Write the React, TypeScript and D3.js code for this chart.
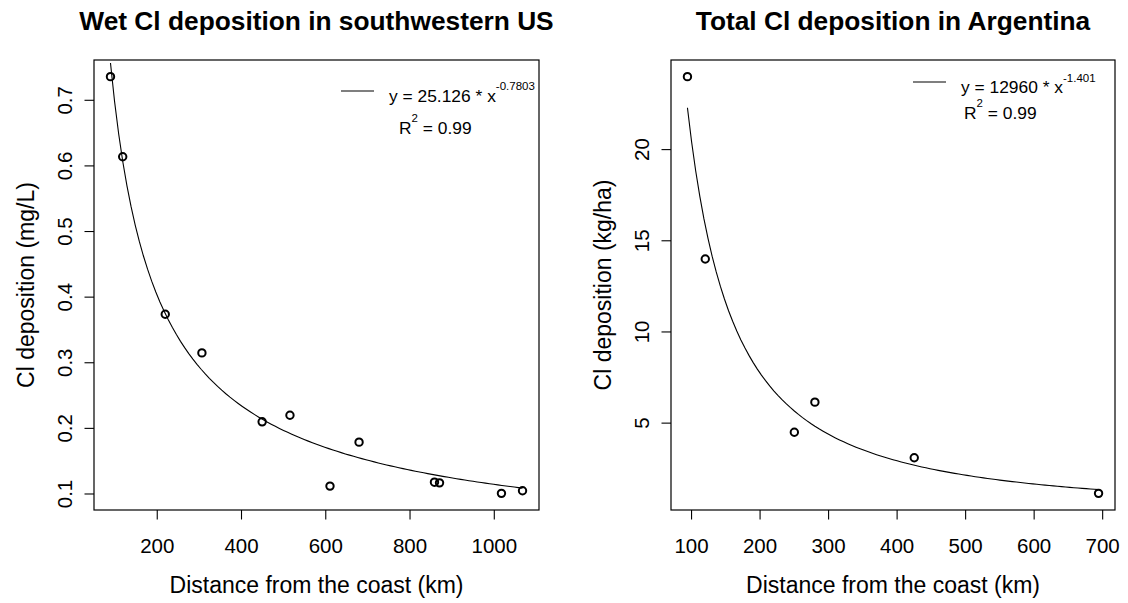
import React from "react";
import * as d3 from "d3";

// Wet Cl deposition, southwestern US
const usDistance = [89, 118, 219, 306, 449, 515, 610, 679, 858, 870, 1017, 1067];
const usDeposition = [0.736, 0.614, 0.374, 0.315, 0.21, 0.22, 0.112, 0.179, 0.118, 0.117, 0.101, 0.105];
const usFit = { a: 25.126, b: -0.7803 };
const usXTicks = [200, 400, 600, 800, 1000];
const usYTicks = [0.1, 0.2, 0.3, 0.4, 0.5, 0.6, 0.7];

// Total Cl deposition, Argentina
const arDistance = [94, 120, 250, 280, 425, 694];
const arDeposition = [24.0, 14.0, 4.5, 6.15, 3.1, 1.15];
const arFit = { a: 12960, b: -1.401 };
const arXTicks = [100, 200, 300, 400, 500, 600, 700];
const arYTicks = [5, 10, 15, 20];

const FONT = "'Liberation Sans', Arial, Helvetica, sans-serif";

// R-style axis range: data extent padded by 4% on each side
function padded(values: number[]): [number, number] {
  const [lo, hi] = d3.extent(values) as [number, number];
  const d = (hi - lo) * 0.04;
  return [lo - d, hi + d];
}

type PanelProps = {
  title: string;
  yLabel: string;
  xs: number[];
  ys: number[];
  fit: { a: number; b: number };
  coefText: string;
  expText: string;
  xTicks: number[];
  yTicks: number[];
  box: { left: number; right: number; top: number; bottom: number };
  legend: {
    lineX1: number; lineX2: number; lineY: number;
    eqX: number; eqY: number; supDy: number;
    rX: number; rY: number;
  };
};

function Panel(p: PanelProps) {
  const { box, legend } = p;
  const x = d3.scaleLinear().domain(padded(p.xs)).range([box.left, box.right]);
  const y = d3.scaleLinear().domain(padded(p.ys)).range([box.bottom, box.top]);
  const [x0, x1] = d3.extent(p.xs) as [number, number];
  const curveX = d3.range(101).map((i) => x0 + ((x1 - x0) * i) / 100);
  const line = d3
    .line<number>()
    .x((d) => x(d))
    .y((d) => y(p.fit.a * Math.pow(d, p.fit.b)));
  const cx = (box.left + box.right) / 2;
  const cy = (box.top + box.bottom) / 2;
  const tickLen = 9.5;

  return (
    <g fontFamily={FONT} fill="#000">
      <text x={cx} y={30} textAnchor="middle" fontWeight="bold" fontSize={26.3}>
        {p.title}
      </text>
      <rect
        x={box.left}
        y={box.top}
        width={box.right - box.left}
        height={box.bottom - box.top}
        fill="none"
        stroke="#000"
        strokeWidth={1.2}
      />
      {/* x axis */}
      {p.xTicks.map((t) => (
        <g key={"x" + t}>
          <line x1={x(t)} x2={x(t)} y1={box.bottom} y2={box.bottom + tickLen} stroke="#000" strokeWidth={1.1} />
          <text x={x(t)} y={553} textAnchor="middle" fontSize={20.5}>
            {t}
          </text>
        </g>
      ))}
      <text x={cx} y={593} textAnchor="middle" fontSize={23}>
        Distance from the coast (km)
      </text>
      {/* y axis */}
      {p.yTicks.map((t) => (
        <g key={"y" + t}>
          <line x1={box.left - tickLen} x2={box.left} y1={y(t)} y2={y(t)} stroke="#000" strokeWidth={1.1} />
          <text
            transform={`translate(${box.left - 22},${y(t)}) rotate(-90)`}
            textAnchor="middle"
            fontSize={20.5}
          >
            {t}
          </text>
        </g>
      ))}
      <text
        transform={`translate(${box.left - 60},${cy}) rotate(-90)`}
        textAnchor="middle"
        fontSize={23}
      >
        {p.yLabel}
      </text>
      {/* fitted power curve */}
      <path d={line(curveX) || ""} fill="none" stroke="#000" strokeWidth={1.1} />
      {/* observations */}
      {p.xs.map((d, i) => (
        <circle key={i} cx={x(d)} cy={y(p.ys[i])} r={3.7} fill="none" stroke="#000" strokeWidth={2} />
      ))}
      {/* legend */}
      <line x1={legend.lineX1} x2={legend.lineX2} y1={legend.lineY} y2={legend.lineY} stroke="#000" strokeWidth={1.1} />
      <text x={legend.eqX} y={legend.eqY} fontSize={17.4}>
        {`y = ${p.coefText} * x`}
        <tspan dy={legend.supDy} fontSize={11.5}>
          {p.expText}
        </tspan>
      </text>
      <text x={legend.rX} y={legend.rY} fontSize={17.4}>
        R
        <tspan dy={-12.3} fontSize={11.5}>
          2
        </tspan>
        <tspan dy={12.3}>{" = 0.99"}</tspan>
      </text>
    </g>
  );
}

export default function App() {
  return (
    <svg
      width={1128}
      height={603}
      style={{ position: "absolute", left: 0, top: 0, background: "#fff" }}
    >
      <rect width={1128} height={603} fill="#fff" />
      <Panel
        title="Wet Cl deposition in southwestern US"
        yLabel="Cl deposition (mg/L)"
        xs={usDistance}
        ys={usDeposition}
        fit={usFit}
        coefText="25.126"
        expText="-0.7803"
        xTicks={usXTicks}
        yTicks={usYTicks}
        box={{ left: 94, right: 539, top: 60, bottom: 510 }}
        legend={{ lineX1: 341, lineX2: 374, lineY: 91, eqX: 389, eqY: 102, supDy: -11.7, rX: 399, rY: 134 }}
      />
      <Panel
        title="Total Cl deposition in Argentina"
        yLabel="Cl deposition (kg/ha)"
        xs={arDistance}
        ys={arDeposition}
        fit={arFit}
        coefText="12960"
        expText="-1.401"
        xTicks={arXTicks}
        yTicks={arYTicks}
        box={{ left: 671, right: 1115, top: 60, bottom: 510 }}
        legend={{ lineX1: 913, lineX2: 946, lineY: 82, eqX: 961, eqY: 93, supDy: -10.6, rX: 964, rY: 119 }}
      />
    </svg>
  );
}
